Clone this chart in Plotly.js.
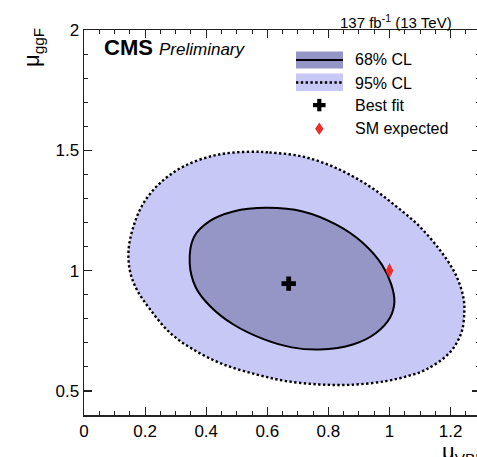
<!DOCTYPE html>
<html>
<head>
<meta charset="utf-8">
<script src="https://cdn.plot.ly/plotly-3.0.1.min.js"></script>
<style>
html, body { margin: 0; padding: 0; overflow: hidden; background: #ffffff; }
#chart { width: 480px; height: 457px; }
</style>
</head>
<body>
<div id="chart"></div>
<script>
// 95% CL contour (mu_VBF, mu_ggF)
const cl95_x = [0.543, 0.607, 0.716, 0.826, 0.935, 1.022, 1.098, 1.164, 1.210, 1.232, 1.243, 1.245, 1.235, 1.196, 1.120, 1.060, 0.989, 0.880, 0.771, 0.662, 0.566, 0.457, 0.358, 0.282, 0.217, 0.173, 0.151, 0.146, 0.162, 0.195, 0.249, 0.326, 0.435, 0.543];
const cl95_y = [1.494, 1.491, 1.474, 1.426, 1.350, 1.267, 1.184, 1.087, 1.000, 0.935, 0.880, 0.830, 0.741, 0.658, 0.589, 0.562, 0.541, 0.526, 0.527, 0.541, 0.568, 0.610, 0.672, 0.741, 0.838, 0.921, 0.995, 1.087, 1.184, 1.281, 1.364, 1.433, 1.481, 1.494];

// 68% CL contour
const cl68_x = [0.597, 0.716, 0.826, 0.913, 0.975, 1.006, 1.016, 1.002, 0.956, 0.880, 0.771, 0.680, 0.590, 0.489, 0.413, 0.366, 0.346, 0.360, 0.410, 0.489, 0.597];
const cl68_y = [1.261, 1.246, 1.191, 1.115, 1.025, 0.942, 0.870, 0.805, 0.741, 0.693, 0.672, 0.681, 0.714, 0.776, 0.852, 0.930, 1.030, 1.140, 1.205, 1.246, 1.261];

// Best fit and SM expectation
const bestfit_x = [0.670];
const bestfit_y = [0.946];
const sm_x = [1.0];
const sm_y = [1.0];

// Axis ticks
const xTickVals = [0, 0.2, 0.4, 0.6, 0.8, 1, 1.2];
const xTickText = ["0", "0.2", "0.4", "0.6", "0.8", "1", "1.2"];
const yTickVals = [0.5, 1, 1.5, 2];
const yTickText = ["0.5", "1", "1.5", "2"];

// Legend labels
const legendLabels = ["68% CL", "95% CL", "Best fit", "SM expected"];

const FONT = "Liberation Sans, Arial, Helvetica, sans-serif";
const FILL95 = "#c8c8f6";
const FILL68 = "#9696c6";
const SMRED = "#e8302a";

const traces = [
  {
    type: "scatter", mode: "lines", x: cl95_x, y: cl95_y,
    fill: "toself", fillcolor: FILL95,
    line: { color: "#000000", width: 2.4, dash: "2.4px,2.4px", shape: "spline", smoothing: 1 },
    hoverinfo: "skip", showlegend: false
  },
  {
    type: "scatter", mode: "lines", x: cl68_x, y: cl68_y,
    fill: "toself", fillcolor: FILL68,
    line: { color: "#000000", width: 2, shape: "spline", smoothing: 1 },
    hoverinfo: "skip", showlegend: false
  },
  {
    type: "scatter", mode: "markers", x: bestfit_x, y: bestfit_y,
    marker: { symbol: "cross", size: 12, color: "#000000" },
    showlegend: false
  },
  {
    type: "scatter", mode: "markers", x: sm_x, y: sm_y,
    marker: { symbol: "diamond-tall", size: 11, color: SMRED },
    showlegend: false
  }
];

// helpers for layout-only legend placement (pixel -> paper)
const L = 84, T = 30, W = 396, H = 385;
const px = p => (p - L) / W;
const py = p => (T + H - p) / H;

const shapes = [
  // 68% CL swatch
  { type: "rect", xref: "paper", yref: "paper", x0: px(296), x1: px(343), y0: py(68.5), y1: py(51.5), fillcolor: FILL68, line: { width: 0 } },
  { type: "line", xref: "paper", yref: "paper", x0: px(296), x1: px(343), y0: py(60), y1: py(60), line: { color: "#000", width: 2 } },
  // 95% CL swatch
  { type: "rect", xref: "paper", yref: "paper", x0: px(296), x1: px(343), y0: py(91), y1: py(73.5), fillcolor: FILL95, line: { width: 0 } },
  { type: "line", xref: "paper", yref: "paper", x0: px(296), x1: px(343), y0: py(82.5), y1: py(82.5), line: { color: "#000", width: 2.4, dash: "2.4px,2.4px" } },
  // Best fit cross
  { type: "rect", xref: "paper", yref: "paper", x0: px(313), x1: px(325.6), y0: py(107.2), y1: py(103), fillcolor: "#000", line: { width: 0 } },
  { type: "rect", xref: "paper", yref: "paper", x0: px(317.2), x1: px(321.4), y0: py(111.3), y1: py(98.9), fillcolor: "#000", line: { width: 0 } },
  // SM diamond
  { type: "path", xref: "paper", yref: "paper",
    path: `M ${px(319.3)} ${py(122.5)} L ${px(323.5)} ${py(128.8)} L ${px(319.3)} ${py(135.1)} L ${px(315.1)} ${py(128.8)} Z`,
    fillcolor: SMRED, line: { width: 0 } }
];

const annotations = [
  { xref: "paper", yref: "paper", x: px(353), y: py(59.5), xanchor: "left", yanchor: "middle", text: legendLabels[0], showarrow: false, font: { family: FONT, size: 16, color: "#000" } },
  { xref: "paper", yref: "paper", x: px(353), y: py(83.3), xanchor: "left", yanchor: "middle", text: legendLabels[1], showarrow: false, font: { family: FONT, size: 16, color: "#000" } },
  { xref: "paper", yref: "paper", x: px(353), y: py(105.7), xanchor: "left", yanchor: "middle", text: legendLabels[2], showarrow: false, font: { family: FONT, size: 16, color: "#000" } },
  { xref: "paper", yref: "paper", x: px(353), y: py(128.3), xanchor: "left", yanchor: "middle", text: legendLabels[3], showarrow: false, font: { family: FONT, size: 16, color: "#000" } },
  // CMS Preliminary
  { xref: "paper", yref: "paper", x: px(102), y: py(47), xanchor: "left", yanchor: "middle",
    text: "<b>CMS</b> <i><span style='font-size:17px'>Preliminary</span></i>", showarrow: false, font: { family: FONT, size: 22, color: "#000" } },
  // Lumi label
  { xref: "paper", yref: "paper", x: px(454), y: py(21.5), xanchor: "right", yanchor: "middle",
    text: "137 fb<sup>-1</sup> (13 TeV)", showarrow: false, font: { family: FONT, size: 15, color: "#000" } },
  // Axis titles
  { xref: "paper", yref: "paper", x: px(33), y: py(48), xanchor: "center", yanchor: "middle", textangle: -90,
    text: "μ<sub>ggF</sub>", showarrow: false, font: { family: FONT, size: 22, color: "#000" } },
  { xref: "paper", yref: "paper", x: px(440), y: py(437), xanchor: "left", yanchor: "top",
    text: "μ<sub>VBF</sub>", showarrow: false, font: { family: FONT, size: 22, color: "#000" } }
];

const layout = {
  width: 480, height: 457,
  margin: { l: L, r: 0, t: T, b: 42, pad: 0 },
  paper_bgcolor: "#ffffff", plot_bgcolor: "#ffffff",
  font: { family: FONT, size: 17, color: "#000" },
  showlegend: false,
  xaxis: {
    range: [0, W / 305.5], showgrid: false, zeroline: false,
    showline: true, linecolor: "#222", linewidth: 1.5, mirror: "ticks",
    ticks: "inside", ticklen: 8, tickwidth: 1.2, tickcolor: "#222",
    tickvals: xTickVals, ticktext: xTickText,
    minor: { ticks: "inside", ticklen: 4, tickwidth: 1, tickcolor: "#222", dtick: 0.05, tick0: 0 },
    tickfont: { family: FONT, size: 17, color: "#000" }
  },
  yaxis: {
    range: [0.4, 2.0], showgrid: false, zeroline: false,
    showline: true, linecolor: "#222", linewidth: 1.5, mirror: "ticks",
    ticks: "inside", ticklen: 8, tickwidth: 1.2, tickcolor: "#222",
    tickvals: yTickVals, ticktext: yTickText,
    minor: { ticks: "inside", ticklen: 4, tickwidth: 1, tickcolor: "#222", dtick: 0.1, tick0: 0 },
    tickfont: { family: FONT, size: 17, color: "#000" }
  },
  shapes: shapes,
  annotations: annotations
};

Plotly.newPlot("chart", traces, layout, { displayModeBar: false, staticPlot: true });
</script>
</body>
</html>
